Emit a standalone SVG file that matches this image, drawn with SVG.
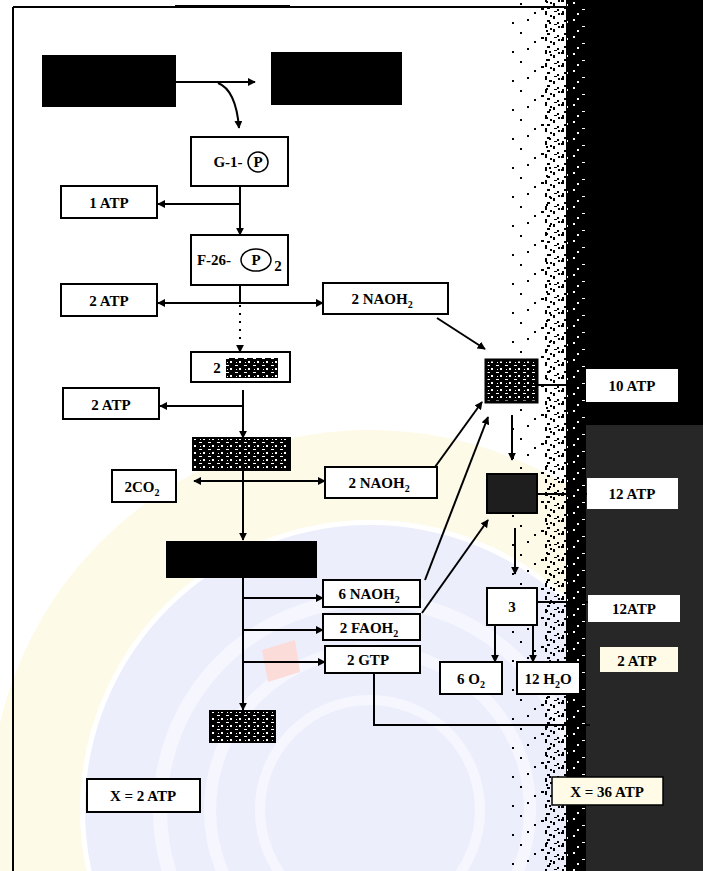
<svg xmlns="http://www.w3.org/2000/svg" width="703" height="871" viewBox="0 0 703 871">
<style>
.box{fill:#fff;stroke:#000;stroke-width:2}
.blk{fill:#000;stroke:#000;stroke-width:2}
.t{font-family:"Liberation Serif","Times New Roman",serif;font-size:15px;font-weight:bold;fill:#000;text-anchor:middle}
.ln{fill:none;stroke:#000;stroke-width:2}
.ar{marker-end:url(#ah)}
</style>
<defs>
<marker id="ah" viewBox="0 0 10 10" refX="9" refY="5" markerWidth="8" markerHeight="8" orient="auto" markerUnits="userSpaceOnUse">
<path d="M0,0 L10,5 L0,10 Z" fill="#000"/>
</marker>
<pattern id="noise1" width="37" height="29" patternUnits="userSpaceOnUse">
<rect x="2" y="3" width="2" height="2" fill="#000"/><rect x="23" y="8" width="3" height="2" fill="#000"/><rect x="9" y="19" width="2" height="2" fill="#000"/><rect x="31" y="22" width="2" height="2" fill="#000"/><rect x="16" y="12" width="2" height="2" fill="#000"/><rect x="28" y="1" width="2" height="2" fill="#000"/>
</pattern>
<pattern id="noise2" width="17" height="13" patternUnits="userSpaceOnUse">
<rect x="0" y="0" width="3" height="2" fill="#000"/><rect x="9" y="3" width="2" height="3" fill="#000"/><rect x="3" y="7" width="3" height="2" fill="#000"/><rect x="13" y="9" width="2" height="2" fill="#000"/><rect x="6" y="2" width="2" height="2" fill="#000"/><rect x="14" y="0" width="2" height="2" fill="#000"/><rect x="1" y="11" width="2" height="2" fill="#000"/><rect x="10" y="11" width="3" height="1" fill="#000"/>
</pattern>
<pattern id="noise3" width="19" height="17" patternUnits="userSpaceOnUse">
<rect width="19" height="17" fill="#000"/>
<rect x="3" y="2" width="2" height="2" fill="#fff"/><rect x="12" y="9" width="3" height="1" fill="#fff"/><rect x="7" y="13" width="2" height="2" fill="#fff"/><rect x="16" y="4" width="1" height="2" fill="#fff"/>
</pattern>
<pattern id="speck" width="9" height="7" patternUnits="userSpaceOnUse">
<rect width="9" height="7" fill="#000"/>
<rect x="1" y="1" width="3" height="1" fill="#fff"/><rect x="5" y="4" width="2" height="2" fill="#fff"/><rect x="2" y="5" width="1" height="1" fill="#fff"/>
</pattern>
</defs>

<rect width="703" height="871" fill="#fff"/>
<g id="watermark">
<circle cx="370" cy="810" r="335" fill="none" stroke="#fefae8" stroke-width="90"/>
<circle cx="370" cy="810" r="285" fill="#eceefc"/>
<circle cx="370" cy="810" r="210" fill="none" stroke="#f6f7fe" stroke-width="14"/>
<circle cx="370" cy="810" r="160" fill="none" stroke="#f6f7fe" stroke-width="12"/>
<circle cx="370" cy="810" r="110" fill="none" stroke="#f6f7fe" stroke-width="10"/>
<path d="M262,650 L295,640 L300,672 L268,682 Z" fill="#fcdcd9"/>
</g>

<g id="darkside">
<rect x="584" y="0" width="119" height="425" fill="#000"/>
<rect x="584" y="425" width="119" height="446" fill="#272727"/>
<rect x="512" y="0" width="40" height="871" fill="url(#noise1)"/>
<rect x="545" y="0" width="28" height="871" fill="url(#noise2)"/>
<rect x="566" y="0" width="20" height="871" fill="url(#noise3)"/>
</g>

<path d="M13,7 V871" class="ln" stroke-width="2.5"/>
<path d="M13,7 H566" class="ln" stroke-width="1.5"/>
<path d="M175,6 H290" class="ln" stroke-width="2.5"/>

<g id="connectors">
<path class="ln ar" d="M175,82 H255"/>
<path class="ln ar" d="M218,83 Q236,90 239,128"/>
<path class="ln ar" d="M240,186 V235"/>
<path class="ln ar" d="M240,204 H158"/>
<path class="ln" d="M240,285 V303"/>
<path class="ln ar" d="M240,303 H158"/>
<path class="ln ar" d="M240,303 H323"/>
<path class="ln ar" d="M240,305 V352" stroke-dasharray="2,6"/>
<path class="ln ar" d="M243,390 V438"/>
<path class="ln ar" d="M243,406 H160"/>
<path class="ln ar" d="M243,470 V540"/>
<path class="ln ar" d="M243,481 H194"/>
<path class="ln ar" d="M243,481 H325"/>
<path class="ln ar" d="M243,578 V710"/>
<path class="ln ar" d="M243,598 H323"/>
<path class="ln ar" d="M243,630 H323"/>
<path class="ln ar" d="M243,662 H325"/>
<path class="ln" d="M374,673 V725 H590"/>
<path class="ln ar" d="M437,318 L485,349"/>
<path class="ln ar" d="M435,467 L482,402"/>
<path class="ln ar" d="M425,580 L488,417"/>
<path class="ln ar" d="M422,613 L488,520"/>
<path class="ln ar" d="M512,415 V460"/>
<path class="ln ar" d="M515,528 V574"/>
<path class="ln" d="M537,385 H586"/>
<path class="ln" d="M537,494 H587"/>
<path class="ln" d="M537,602 H588"/>
<path class="ln ar" d="M495,625 V662"/>
<path class="ln ar" d="M533,625 V662"/>
</g>

<g id="n-black1"><rect class="blk" x="43" y="56" width="132" height="50"/></g>
<g id="n-black2"><rect class="blk" x="272" y="53" width="129" height="51"/></g>

<g id="n-g1p"><rect class="box" x="191" y="137" width="97" height="49"/>
<text class="t" x="228" y="167" font-weight="normal">G-1-</text>
<circle cx="258" cy="162" r="10" fill="none" stroke="#000" stroke-width="1.5"/>
<text class="t" x="258" y="167" font-weight="normal">P</text></g>

<g id="n-1atp"><rect class="box" x="61" y="186" width="96" height="32"/><text class="t" x="109" y="208">1 ATP</text></g>

<g id="n-f26p2"><rect class="box" x="191" y="235" width="97" height="50"/>
<text class="t" x="214" y="265" font-weight="normal">F-26-</text>
<ellipse cx="256" cy="260" rx="15" ry="11" fill="none" stroke="#000" stroke-width="1.5"/>
<text class="t" x="256" y="265" font-weight="normal">P</text>
<text class="t" x="278" y="271" font-size="11">2</text></g>

<g id="n-2atp-a"><rect class="box" x="61" y="284" width="96" height="32"/><text class="t" x="109" y="306">2 ATP</text></g>

<g id="n-2naoh-a"><rect class="box" x="323" y="283" width="125" height="31"/><text class="t" x="382" y="304">2 NAOH<tspan font-size="10" dy="4">2</tspan></text></g>

<g id="n-2pep"><rect class="box" x="191" y="352" width="99" height="30"/>
<rect x="226" y="358" width="52" height="20" fill="url(#speck)"/>
<text class="t" x="217" y="373">2</text></g>

<g id="n-2atp-b"><rect class="box" x="63" y="388" width="96" height="31"/><text class="t" x="111" y="410">2 ATP</text></g>

<g id="n-pyruvate"><rect x="193" y="438" width="97" height="32" fill="url(#speck)" stroke="#000" stroke-width="2"/></g>

<g id="n-2co2"><rect class="box" x="112" y="470" width="64" height="32"/><text class="t" x="142" y="492" font-weight="normal">2CO<tspan font-size="10" dy="4">2</tspan></text></g>

<g id="n-2naoh-b"><rect class="box" x="325" y="467" width="112" height="31"/><text class="t" x="379" y="488">2 NAOH<tspan font-size="10" dy="4">2</tspan></text></g>

<g id="n-acetyl"><rect class="blk" x="167" y="542" width="149" height="35" fill="#0b0b14"/></g>

<g id="n-6naoh"><rect class="box" x="323" y="580" width="97" height="27"/><text class="t" x="369" y="599">6 NAOH<tspan font-size="10" dy="4">2</tspan></text></g>
<g id="n-2faoh"><rect class="box" x="323" y="614" width="97" height="26"/><text class="t" x="369" y="633">2 FAOH<tspan font-size="10" dy="4">2</tspan></text></g>
<g id="n-2gtp"><rect class="box" x="325" y="646" width="95" height="27"/><text class="t" x="368" y="665" font-weight="normal">2 GTP</text></g>

<g id="n-small"><rect x="210" y="711" width="65" height="31" fill="url(#speck)" stroke="#000" stroke-width="2"/></g>

<g id="n-x2atp"><rect class="box" x="87" y="779" width="113" height="33"/><text class="t" x="143" y="801">X = 2 ATP</text></g>

<g id="n-cyto"><rect x="486" y="360" width="51" height="42" fill="url(#speck)" stroke="#000" stroke-width="3"/></g>
<g id="n-10atp"><rect x="586" y="369" width="92" height="33" fill="#fff"/><text class="t" x="632" y="391">10 ATP</text></g>

<g id="n-blacksq"><rect x="487" y="474" width="50" height="39" fill="#1e1e1e" stroke="#000" stroke-width="2"/></g>
<g id="n-12atp-a"><rect x="587" y="478" width="91" height="31" fill="#fff"/><text class="t" x="632" y="499" font-weight="normal">12 ATP</text></g>

<g id="n-3"><rect class="box" x="487" y="588" width="50" height="37"/><text class="t" x="512" y="612" font-weight="normal">3</text></g>
<g id="n-12atp-b"><rect x="588" y="595" width="92" height="27" fill="#fff"/><text class="t" x="634" y="614" font-weight="normal">12ATP</text></g>
<g id="n-2atp-c"><rect x="600" y="647" width="78" height="25" fill="#fffbe6"/><text class="t" x="637" y="666">2 ATP</text></g>

<g id="n-6o2"><rect class="box" x="440" y="662" width="62" height="32"/><text class="t" x="471" y="684" font-weight="normal">6 O<tspan font-size="10" dy="4">2</tspan></text></g>
<g id="n-12h2o"><rect class="box" x="517" y="662" width="63" height="32"/><text class="t" x="548" y="684" font-weight="normal">12 H<tspan font-size="10" dy="4">2</tspan><tspan dy="-4">O</tspan></text></g>

<g id="n-x36atp"><rect x="552" y="777" width="111" height="28" fill="#fffbe6" stroke="#000" stroke-width="1.5"/><text class="t" x="607" y="797">X = 36 ATP</text></g>
</svg>
